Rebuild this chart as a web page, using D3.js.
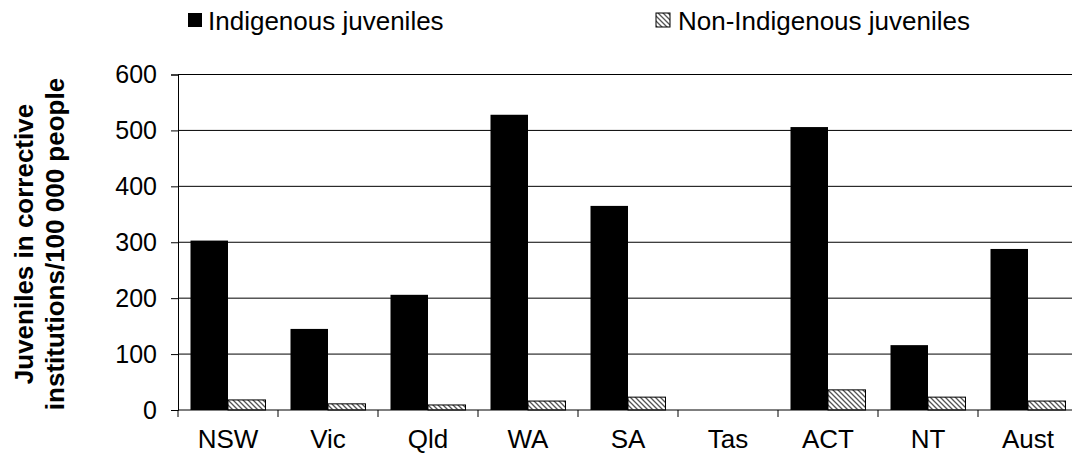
<!DOCTYPE html>
<html>
<head>
<meta charset="utf-8">
<script src="https://cdn.jsdelivr.net/npm/d3@7"></script>
<style>
  body { margin: 0; background: #fff; }
  svg { display: block; font-family: "Liberation Sans", Arial, sans-serif; }
</style>
</head>
<body>
<div id="chart"></div>
<script>
// Chart data
const categories = ["NSW", "Vic", "Qld", "WA", "SA", "Tas", "ACT", "NT", "Aust"];
const indigenous = [303, 145, 206, 528, 365, 0, 506, 116, 288];
const nonIndigenous = [18, 11, 9, 16, 23, 0, 36, 23, 16];
const seriesNames = ["Indigenous juveniles", "Non-Indigenous juveniles"];
const yTicks = [0, 100, 200, 300, 400, 500, 600];

const width = 1072, height = 463;
const plotLeft = 178, plotRight = 1078, plotTop = 74.5, plotBottom = 410;

const svg = d3.select("#chart").append("svg")
    .attr("width", width)
    .attr("height", height);

// hatch pattern for the non-Indigenous bars
const defs = svg.append("defs");
defs.append("pattern")
    .attr("id", "hatch")
    .attr("patternUnits", "userSpaceOnUse")
    .attr("width", 5)
    .attr("height", 5)
    .append("path")
    .attr("d", "M-1,-1 L6,6 M-1,4 L1,6 M4,-1 L6,1")
    .attr("stroke", "#555")
    .attr("stroke-width", 1.3);

const x = d3.scaleBand().domain(categories).range([plotLeft, plotRight]).padding(0);
const xs = d3.scaleBand().domain(seriesNames).range([0, x.bandwidth()])
    .paddingInner(0).paddingOuter(1 / 3);
const y = d3.scaleLinear().domain([0, 600]).range([plotBottom, plotTop]);

// gridlines
svg.append("g")
    .selectAll("line")
    .data(yTicks.filter(d => d > 0))
    .join("line")
    .attr("x1", plotLeft).attr("x2", width)
    .attr("y1", d => y(d)).attr("y2", d => y(d))
    .attr("stroke", "#000")
    .attr("stroke-width", 1);

// y axis
const yAxis = svg.append("g")
    .attr("transform", `translate(${plotLeft},0)`)
    .call(d3.axisLeft(y).tickValues(yTicks).tickSize(7).tickPadding(14));
yAxis.select(".domain").attr("stroke", "#000");
yAxis.selectAll("text")
    .attr("font-size", 25)
    .attr("font-family", "Liberation Sans, Arial, sans-serif")
    .attr("fill", "#000");

// x axis: ticks at category boundaries
svg.append("line")
    .attr("x1", plotLeft).attr("x2", width)
    .attr("y1", plotBottom).attr("y2", plotBottom)
    .attr("stroke", "#000");
svg.append("g")
    .selectAll("line")
    .data(categories)
    .join("line")
    .attr("x1", d => x(d)).attr("x2", d => x(d))
    .attr("y1", plotBottom).attr("y2", plotBottom + 7)
    .attr("stroke", "#000");
svg.append("g")
    .selectAll("text")
    .data(categories)
    .join("text")
    .attr("x", d => x(d) + x.bandwidth() / 2)
    .attr("y", 448)
    .attr("text-anchor", "middle")
    .attr("font-size", 26)
    .text(d => d);

// bars
const rows = categories.map((c, i) => ({ cat: c, vals: [indigenous[i], nonIndigenous[i]] }));
const groups = svg.append("g")
    .selectAll("g")
    .data(rows)
    .join("g")
    .attr("transform", d => `translate(${x(d.cat)},0)`);

groups.selectAll("rect")
    .data(d => d.vals.map((v, j) => ({ key: seriesNames[j], v })).filter(e => e.v > 0))
    .join("rect")
    .attr("x", d => xs(d.key))
    .attr("width", xs.bandwidth())
    .attr("y", d => y(d.v))
    .attr("height", d => y(0) - y(d.v))
    .attr("fill", d => d.key === seriesNames[0] ? "#000" : "url(#hatch)")
    .attr("stroke", "#000")
    .attr("stroke-width", d => d.key === seriesNames[0] ? 0 : 1);

// y title
const title = svg.append("text")
    .attr("transform", `translate(0,244) rotate(-90)`)
    .attr("text-anchor", "middle")
    .attr("font-size", 26)
    .attr("font-weight", "bold");
title.append("tspan").attr("x", 0).attr("y", 33).text("Juveniles in corrective");
title.append("tspan").attr("x", 0).attr("y", 64).text("institutions/100 000 people");

// legend
const legendPos = [{ sx: 188, tx: 208 }, { sx: 656, tx: 678 }];
const legend = svg.append("g")
    .selectAll("g")
    .data(seriesNames)
    .join("g");
legend.append("rect")
    .attr("x", (d, i) => legendPos[i].sx)
    .attr("y", 13)
    .attr("width", 14)
    .attr("height", 14)
    .attr("fill", (d, i) => i === 0 ? "#000" : "url(#hatch)")
    .attr("stroke", (d, i) => i === 0 ? "none" : "#000");
legend.append("text")
    .attr("x", (d, i) => legendPos[i].tx)
    .attr("y", 30)
    .attr("font-size", 26)
    .text(d => d);
</script>
</body>
</html>
